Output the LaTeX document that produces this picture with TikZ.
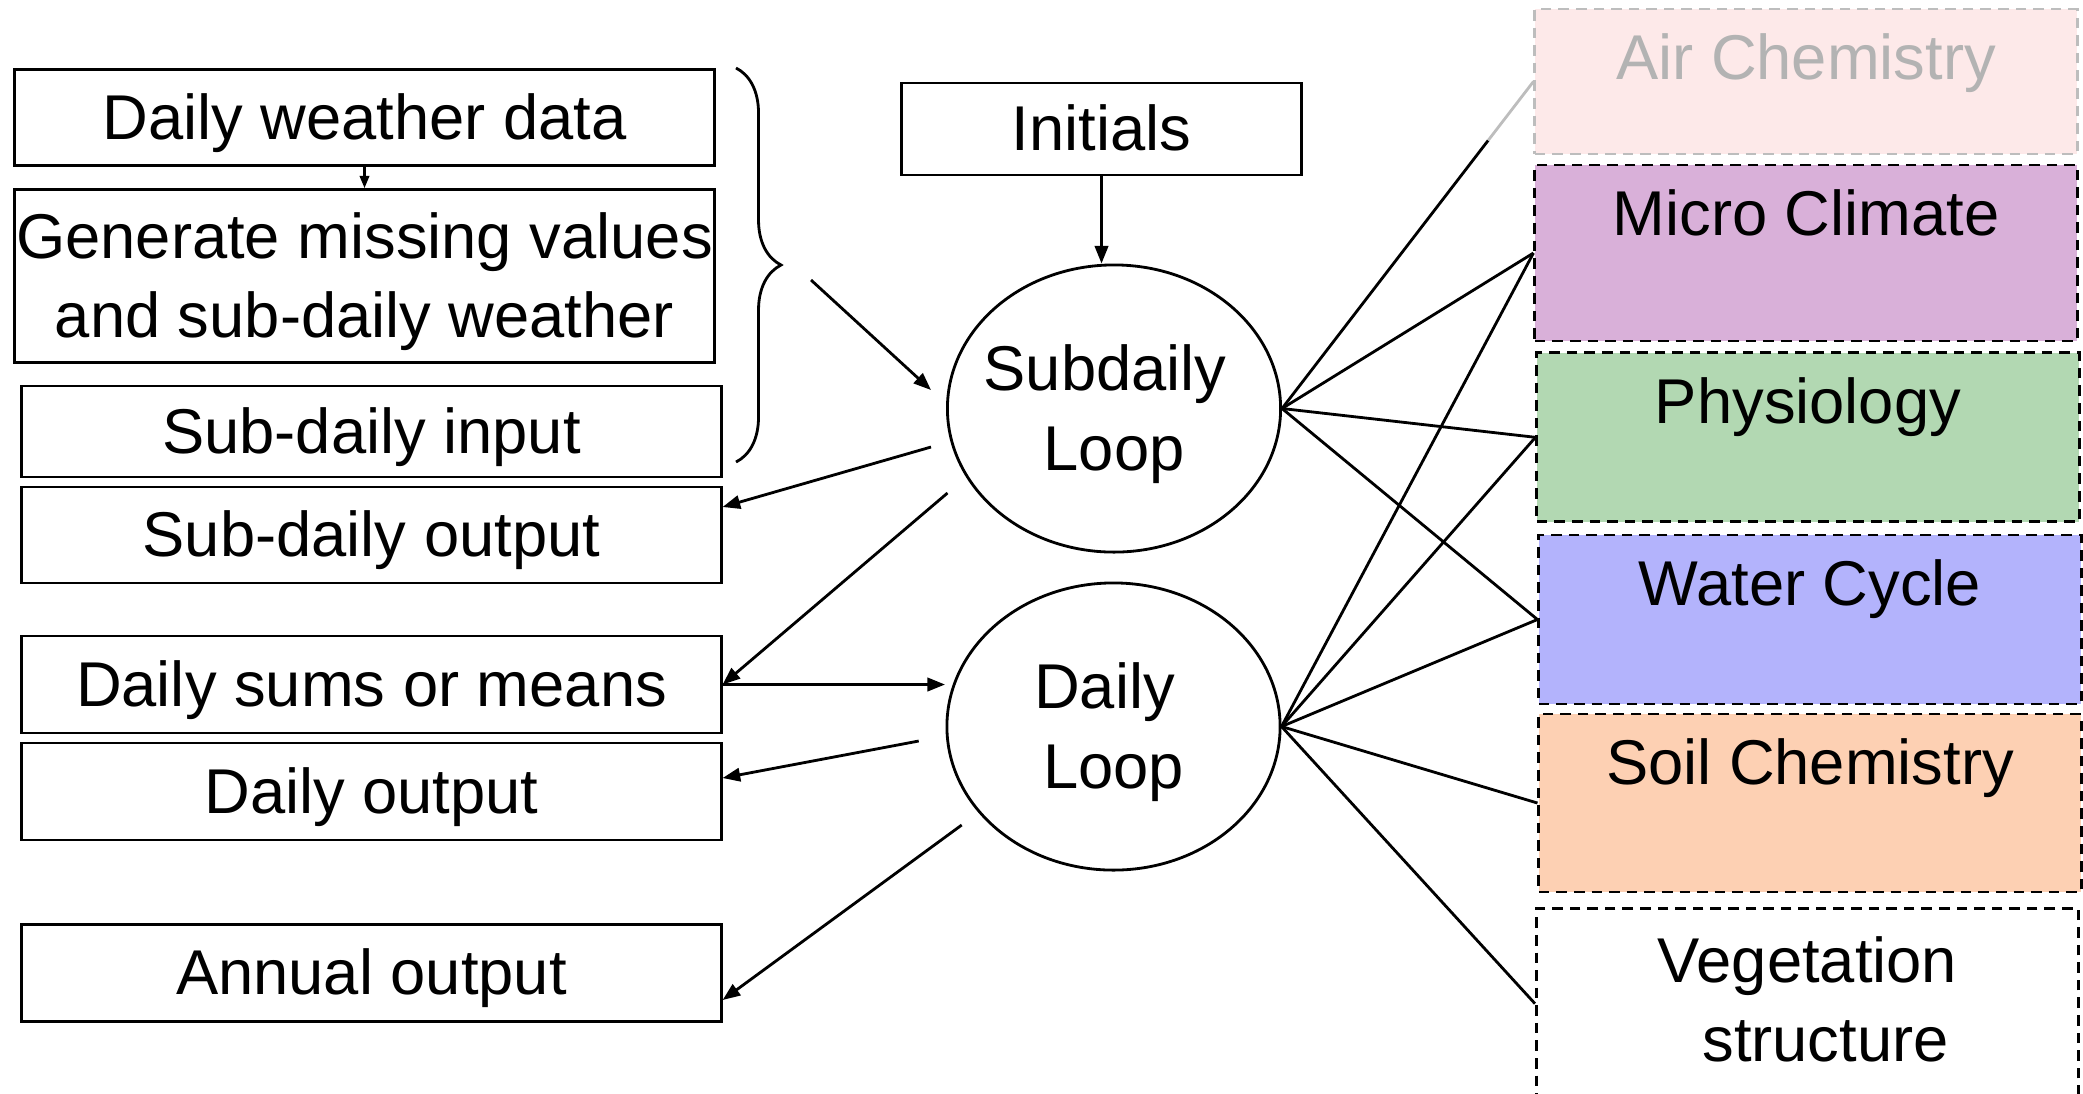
\documentclass[tikz,border=0pt]{standalone}
\usepackage{fontspec}
\setmainfont{Liberation Sans}
\usetikzlibrary{arrows.meta,calc,shapes.geometric,decorations.pathreplacing}
\definecolor{airfill}{HTML}{FDE9E9}
\definecolor{airline}{HTML}{BDBDBD}
\definecolor{airtext}{HTML}{B3B3B3}
\definecolor{microfill}{HTML}{D9B0D9}
\definecolor{physiofill}{HTML}{B2D8B2}
\definecolor{waterfill}{HTML}{B3B3FC}
\definecolor{soilfill}{HTML}{FDD0B3}
\newcommand\linestrut{\rule[-0.212em]{0pt}{1.117em}}
\begin{document}
\begin{tikzpicture}[x=0.01cm,y=-0.01cm,line width=0.8pt,
		every node/.style={font=\fontsize{18}{22.5}\selectfont,inner sep=0pt,align=center},
		box/.style={draw,minimum width=6.99cm,minimum height=0.96cm},
		loopnode/.style={draw,ellipse,minimum width=3.33cm,minimum height=2.87cm},
		part/.style={draw,dash pattern=on 3pt off 2pt,minimum width=5.42cm,fill=#1},
		title/.style={anchor=base,yshift=-0.72cm},
		arr/.style={-{Triangle[length=5pt,width=3.8pt]}}]
		\useasboundingbox(0,0)rectangle(2083,1093);
		\node[box](dwd)at(364.5,117.5){\linestrut Daily weather data};
		\node[box,minimum height=1.725cm](gen)at(364.5,276){\linestrut Generate missing values\\and sub-daily weather\linestrut};
		\node[box,minimum height=0.91cm](sdin)at(371.5,431.5){\linestrut Sub-daily input};
		\node[box](sdout)at(371.5,535){\linestrut Sub-daily output};
		\node[box,minimum height=0.97cm](sums)at(371.5,684.5){\linestrut Daily sums or means};
		\node[box,minimum height=0.97cm](dout)at(371.5,791.5){\linestrut Daily output};
		\node[box,minimum height=0.97cm](annual)at(371.5,973){\linestrut Annual output};
		\node[box,minimum width=3.99cm,minimum height=0.92cm](initials)at(1101.5,129){\linestrut Initials};
		\node[loopnode,label={[anchor=center]center:\linestrut Subdaily\hspace*{0.18cm}\\Loop\linestrut}](subdaily)at(1114,408.5){};
		\node[loopnode,label={[anchor=center]center:\linestrut Daily\hspace*{0.18cm}\\Loop\linestrut}](daily)at(1113.5,726.5){};
		\node[part=airfill,draw=airline,minimum height=1.45cm,label={[title,text=airtext]north:Air Chemistry}](airchem)at(1806,81.5){};
		\node[part=microfill,minimum height=1.76cm,label={[title]north:Micro Climate}](micro)at(1806,253){};
		\node[part=physiofill,minimum height=1.69cm,label={[title]north:Physiology}](physio)at(1808,437.3){};
		\node[part=waterfill,minimum height=1.69cm,label={[title]north:Water Cycle}](water)at(1810,619.5){};
		\node[part=soilfill,minimum height=1.78cm,label={[title]north:Soil Chemistry}](soil)at(1810,803){};
		\node[part=white,minimum height=1.9cm,label={[anchor=center,yshift=0.036cm]center:\linestrut Vegetation\\\hspace*{0.36cm}structure\linestrut}](veg)at(1807.5,1003.6){};
		\draw[-{Triangle[length=3.5pt,width=2.6pt]}](dwd)--(gen);
		\draw[arr](initials.south)--(initials.south|-subdaily.north);
		\draw[decorate,decoration={brace,amplitude=0.45cm}](736,68)coordinate(bt)--(736,462)coordinate(bb);
		\coordinate(b1)at(811,280);
		\coordinate(b2)at(931,390);
		\coordinate(s1)at(931,447);
		\coordinate(s2)at(947.5,493);
		\coordinate(d0)at(945,684.5);
		\coordinate(d1)at(918.7,741);
		\coordinate(d2)at(961.7,825);
		\draw[arr](b1)--(b2);
		\draw[arr](s1)--([yshift=0.28cm]sdout.east);
		\draw[arr](s2)--(sums.east);
		\draw[arr](sums.east)--(d0);
		\draw[arr](d1)--([yshift=0.135cm]dout.east);
		\draw[arr](d2)--([yshift=-0.27cm]annual.east);
		\coordinate(g1)at($(subdaily.east)!0.82!(airchem.west)$);
		\draw(subdaily.east)--(g1);
		\draw[airline](g1)--(airchem.west);
		\foreach \t in {micro,physio,water}\draw(subdaily.east)--(\t.west);
		\foreach \t in {micro,physio,water,soil,veg}\draw(daily.east)--(\t.west);
	\end{tikzpicture}
\end{document}
